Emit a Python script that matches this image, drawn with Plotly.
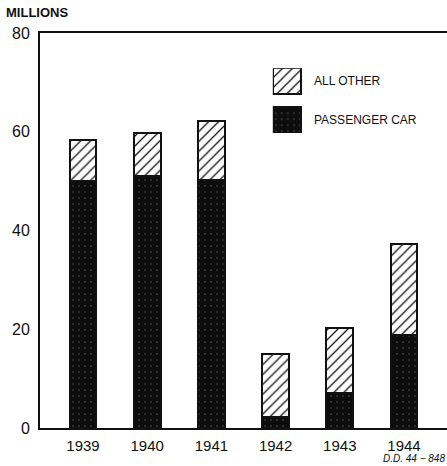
import plotly.graph_objects as go

years = ["1939", "1940", "1941", "1942", "1943", "1944"]
passenger_car = [50.0, 51.0, 50.2, 2.3, 7.0, 18.8]
all_other = [8.3, 8.7, 11.9, 12.7, 13.2, 18.4]
y_ticks = [0, 20, 40, 60, 80]

FONT = "Liberation Sans"
dark_pattern = dict(shape=".", bgcolor="#0d0d0d", fgcolor="#5a5a5a", size=6, solidity=0.05, fillmode="replace")
hatch_pattern = dict(shape="/", bgcolor="white", fgcolor="#111", size=7, solidity=0.18, fillmode="replace")

fig = go.Figure()
fig.add_trace(go.Bar(x=years, y=passenger_car, name="PASSENGER CAR", width=0.42,
                     marker=dict(color="#0d0d0d", pattern=dark_pattern,
                                 line=dict(color="#111", width=2))))
fig.add_trace(go.Bar(x=years, y=all_other, name="ALL OTHER", width=0.42,
                     marker=dict(color="white", pattern=hatch_pattern,
                                 line=dict(color="#111", width=2))))

# legend swatches on an overlay axis
leg_labels = ["ALL OTHER", "PASSENGER CAR"]
leg_pos = [1, 0]
leg_h = 0.667
fig.add_trace(go.Bar(x=[0.5], y=[leg_h], base=[leg_pos[0]], width=[1], xaxis="x2", yaxis="y2",
                     marker=dict(color="white", pattern=hatch_pattern, line=dict(color="#111", width=2)),
                     showlegend=False, hoverinfo="skip"))
fig.add_trace(go.Bar(x=[0.5], y=[leg_h], base=[leg_pos[1]], width=[1], xaxis="x2", yaxis="y2",
                     marker=dict(color="#0d0d0d", pattern=dark_pattern, line=dict(color="#111", width=2)),
                     showlegend=False, hoverinfo="skip"))
for lab, p in zip(leg_labels, leg_pos):
    fig.add_annotation(x=1.39, y=p + leg_h / 2, xref="x2", yref="y2", text=lab, showarrow=False,
                       xanchor="left", yanchor="middle", font=dict(family=FONT, size=12, color="#111"))

fig.update_layout(
    width=447, height=466,
    margin=dict(l=40, r=0, t=33, b=38),
    paper_bgcolor="white", plot_bgcolor="white",
    barmode="stack", showlegend=False,
    font=dict(family=FONT, color="#111"),
    xaxis=dict(range=[-0.67, 5.67], showline=True, linecolor="#111", linewidth=2,
               mirror=True, ticks="", showgrid=False, zeroline=False,
               tickfont=dict(size=15, family=FONT), ticklabelstandoff=3),
    yaxis=dict(range=[0, 80], tickvals=y_ticks, showline=True, linecolor="#111", linewidth=2,
               ticks="", showgrid=False, zeroline=False,
               tickfont=dict(size=16, family=FONT), ticklabelstandoff=5),
    xaxis2=dict(domain=[0.572, 1.0], range=[0, 6.21], visible=False, fixedrange=True, anchor="y2"),
    yaxis2=dict(domain=[0.747, 0.911], range=[0, 1.667], visible=False, fixedrange=True, anchor="x2"),
)

fig.add_annotation(x=0, y=1.0, xref="paper", yref="paper", xshift=-36, yshift=11,
                   text="<b>MILLIONS</b>", showarrow=False, xanchor="left", yanchor="bottom",
                   font=dict(family=FONT, size=13, color="#111"))
fig.add_annotation(x=1.0, y=0, xref="paper", yref="paper", yshift=-38,
                   text="<i>D.D. 44 − 848</i>", showarrow=False, xanchor="right", yanchor="bottom",
                   font=dict(family=FONT, size=10, color="#111"))

fig.write_html("out.html", config={"displayModeBar": False},
               post_script="document.body.style.margin='0';document.body.style.overflow='hidden';")
